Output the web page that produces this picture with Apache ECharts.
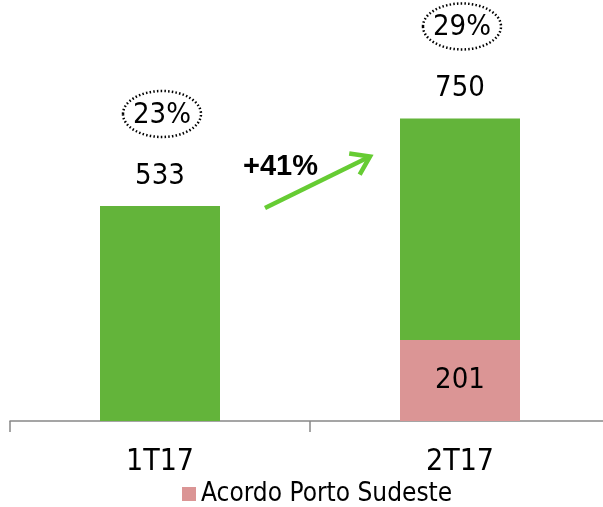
<!DOCTYPE html>
<html>
<head>
<meta charset="utf-8">
<script src="https://cdn.jsdelivr.net/npm/echarts@6/dist/echarts.min.js"></script>
<style>
  html, body { margin: 0; padding: 0; background: #fff; }
  #chart { width: 603px; height: 507px; }
</style>
</head>
<body>
<div id="chart"></div>
<script>
var categories = ['1T17', '2T17'];
var acordo = [0, 201];
var demais = [533, 549];
var totais = [533, 750];
var margens = ['23%', '29%'];
var crescimento = '+41%';

var font = '"Liberation Sans Narrow", "DejaVu Sans Condensed", "DejaVu Sans"';
var chart = echarts.init(document.getElementById('chart'));

chart.setOption({
	animation: false,
	grid: { left: 10, width: 600, top: 17.6, bottom: 86, outerBoundsMode: 'none', containLabel: false },
	legend: {
		data: ['Acordo Porto Sudeste'],
		top: 476,
		left: 177,
		icon: 'rect',
		itemWidth: 14,
		itemHeight: 14,
		itemGap: 7,
		textStyle: { fontFamily: font, fontSize: 26, color: '#000' }
	},
	xAxis: {
		type: 'category',
		data: categories,
		axisLine: { lineStyle: { color: '#888', width: 1.5 } },
		axisTick: { show: true, length: 11, lineStyle: { color: '#888', width: 1.5 } },
		axisLabel: { fontFamily: font, fontSize: 30, color: '#000', margin: 26 }
	},
	yAxis: {
		type: 'value', min: 0, max: 1000,
		show: false,
		splitLine: { show: false }
	},
	series: [
		{
			name: 'Acordo Porto Sudeste',
			type: 'bar',
			stack: 'total',
			barWidth: '40%',
			data: acordo,
			itemStyle: { color: '#DB9595' },
			label: {
				show: true,
				position: 'inside',
				fontFamily: font, fontSize: 29, color: '#000',
				formatter: function(p){ return p.value ? p.value : ''; }
			}
		},
		{
			name: 'Demais',
			type: 'bar',
			stack: 'total',
			barWidth: '40%',
			data: demais,
			itemStyle: { color: '#63B43A' },
			label: {
				show: true,
				position: 'top',
				distance: 15,
				fontFamily: font, fontSize: 29, color: '#000',
				formatter: function(p){ return totais[p.dataIndex]; }
			}
		}
	]
});

function desenharAnotacoes(){
	var els = [];
	categories.forEach(function(c, i){
		var pt = chart.convertToPixel({ xAxisIndex: 0, yAxisIndex: 0 }, [c, totais[i]]);
		els.push({
			type: 'ellipse',
			shape: { cx: pt[0] + 2, cy: pt[1] - 92, rx: 39, ry: 23 },
			style: { fill: 'none', stroke: '#000', lineWidth: 2.5, lineDash: [1.5, 2.2] }
		});
		els.push({
			type: 'text',
			x: pt[0] + 2, y: pt[1] - 91,
			style: {
				text: margens[i], fontFamily: font, fontSize: 29, fill: '#000',
				align: 'center', verticalAlign: 'middle'
			}
		});
	});
	var p1 = chart.convertToPixel({ xAxisIndex: 0, yAxisIndex: 0 }, [categories[0], totais[0]]);
	var p2 = chart.convertToPixel({ xAxisIndex: 0, yAxisIndex: 0 }, [categories[1], totais[1]]);
	var x0 = p1[0] + 105, y0 = p1[1] + 2;
	var x1 = p2[0] - 90, y1 = p2[1] + 38;
	var ang = Math.atan2(y1 - y0, x1 - x0);
	var hl = 21;
	els.push({
		type: 'line',
		shape: { x1: x0, y1: y0, x2: x1, y2: y1 },
		style: { stroke: '#66CC33', lineWidth: 4.5, lineCap: 'butt' }
	});
	els.push({
		type: 'polyline',
		shape: { points: [
			[x1 + hl * Math.cos(ang + Math.PI - 0.6), y1 + hl * Math.sin(ang + Math.PI - 0.6)],
			[x1, y1],
			[x1 + hl * Math.cos(ang + Math.PI + 0.6), y1 + hl * Math.sin(ang + Math.PI + 0.6)]
		] },
		style: { stroke: '#66CC33', lineWidth: 4.5, lineCap: 'butt', lineJoin: 'miter', fill: 'none' }
	});
	els.push({
		type: 'text',
		x: x0 - 22, y: y0 - 41,
		style: {
			text: crescimento, fontFamily: 'Liberation Sans', fontWeight: 'bold',
			fontSize: 29, fill: '#000', align: 'left', verticalAlign: 'middle'
		}
	});
	chart.setOption({ graphic: { elements: els } });
}
desenharAnotacoes();
</script>
</body>
</html>
